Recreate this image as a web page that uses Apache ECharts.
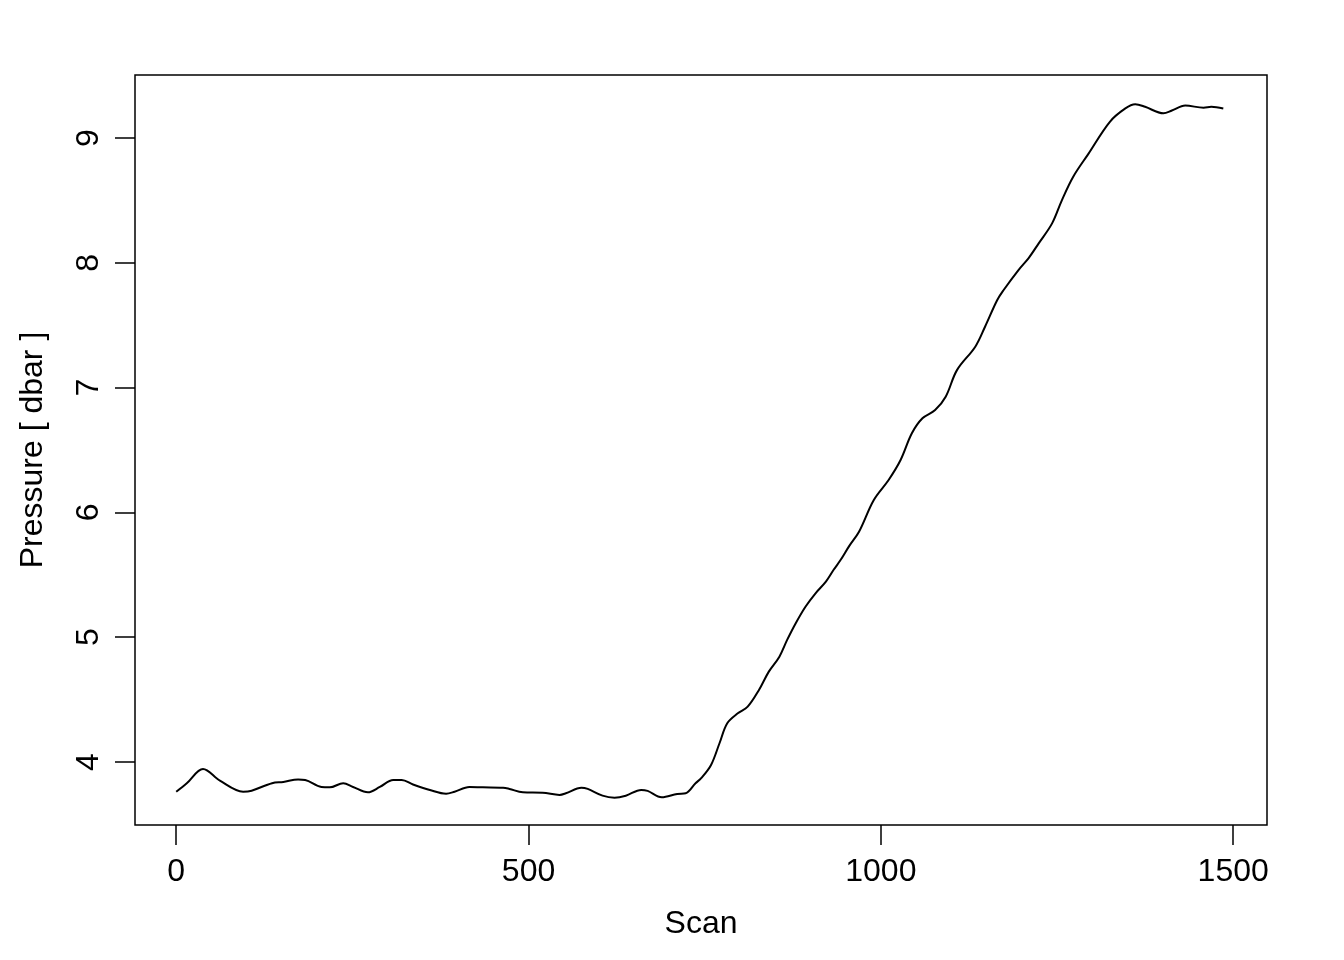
<!DOCTYPE html>
<html>
<head>
<meta charset="utf-8">
<script src="https://cdn.jsdelivr.net/npm/echarts@6/dist/echarts.min.js"></script>
<style>
html,body{margin:0;padding:0;background:#fff;}
#chart{width:1344px;height:960px;}
</style>
</head>
<body>
<div id="chart"></div>
<script>
const scans = [0,15,38,62,95,107,136,152,173,183,206,218,237,251,272,289,308,320,336,360,383,395,416,435,464,473,492,520,544,553,575,584,605,622,638,660,669,689,711,723,737,745,759,771,782,797,811,827,841,856,867,879,893,907,922,933,943,955,969,990,1011,1028,1044,1059,1077,1092,1108,1134,1148,1165,1174,1195,1210,1224,1243,1257,1273,1295,1325,1347,1361,1375,1401,1413,1432,1458,1469,1486];
const pressure = [3.762,3.83,3.944,3.85,3.762,3.77,3.83,3.84,3.86,3.856,3.80,3.797,3.83,3.80,3.757,3.80,3.856,3.856,3.82,3.776,3.746,3.762,3.80,3.797,3.794,3.784,3.757,3.754,3.736,3.749,3.794,3.784,3.73,3.714,3.73,3.776,3.768,3.717,3.744,3.749,3.83,3.87,3.976,4.15,4.31,4.39,4.443,4.577,4.724,4.844,4.978,5.11,5.244,5.35,5.445,5.54,5.62,5.73,5.845,6.10,6.26,6.42,6.634,6.754,6.82,6.927,7.14,7.328,7.49,7.70,7.78,7.94,8.04,8.156,8.316,8.503,8.69,8.877,9.13,9.237,9.27,9.25,9.198,9.22,9.26,9.243,9.25,9.237];
const xTicks = [0,500,1000,1500];
const yTicks = [4,5,6,7,8,9];
const xTitle = 'Scan';
const yTitle = 'Pressure [ dbar ]';

const font = '"Liberation Sans", Arial, Helvetica, sans-serif';
const chart = echarts.init(document.getElementById('chart'), null, {renderer:'canvas'});
chart.setOption({
  animation:false,
  backgroundColor:'#fff',
  grid:{left:135, right:77, top:75, bottom:135, show:true, borderColor:'#000', borderWidth:1.5, backgroundColor:'transparent'},
  xAxis:{
    type:'value', min:-58.5, max:1548,
    name:xTitle, nameLocation:'middle', nameGap:83,
    nameTextStyle:{fontFamily:font, fontSize:32, color:'#000'},
    axisLine:{show:false, onZero:false},
    splitLine:{show:false},
    axisTick:{show:true, length:20, customValues:xTicks, lineStyle:{color:'#000', width:1.5}},
    axisLabel:{show:true, customValues:xTicks, margin:31, fontFamily:font, fontSize:32, color:'#000', formatter:v=>String(v)}
  },
  yAxis:{
    type:'value', min:3.495, max:9.505,
    name:yTitle, nameLocation:'middle', nameGap:86, nameRotate:90,
    nameTextStyle:{fontFamily:font, fontSize:32, color:'#000'},
    axisLine:{show:false, onZero:false},
    splitLine:{show:false},
    axisTick:{show:true, length:20, customValues:yTicks, lineStyle:{color:'#000', width:1.5}},
    axisLabel:{show:true, customValues:yTicks, rotate:90, margin:30, fontFamily:font, fontSize:32, color:'#000', formatter:v=>String(v)}
  },
  series:[{
    type:'line',
    data:scans.map((s,i)=>[s,pressure[i]]),
    showSymbol:false,
    smooth:0.35,
    lineStyle:{color:'#000', width:2}
  }]
});
</script>
</body>
</html>
